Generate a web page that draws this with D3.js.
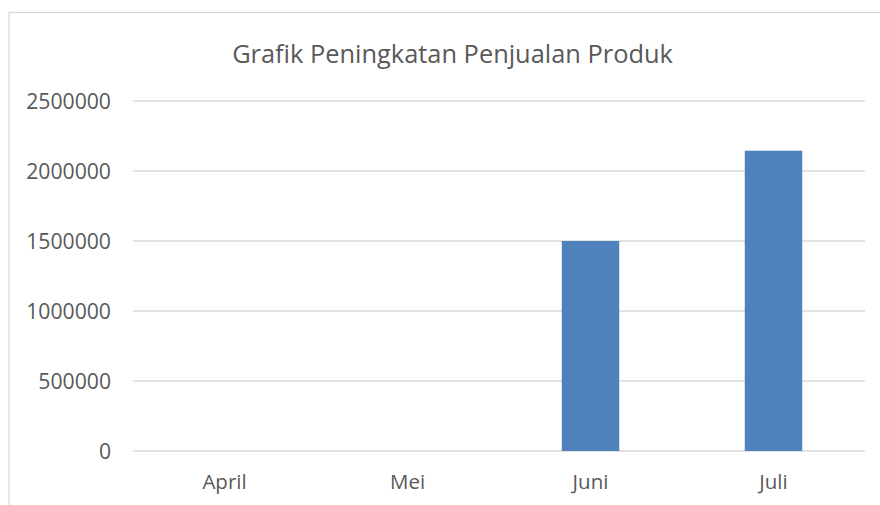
<!DOCTYPE html>
<html><head><meta charset="utf-8">
<script src="https://cdn.jsdelivr.net/npm/d3@7"></script>
<style>html,body{margin:0;padding:0;background:#fff;overflow:hidden}</style>
</head><body>
<svg id="c" width="880" height="505"></svg>
<script>
const categories = ["April", "Mei", "Juni", "Juli"];
const values = [0, 0, 1500000, 2145000];
const yTicks = [0, 500000, 1000000, 1500000, 2000000, 2500000];
const title = "Grafik Peningkatan Penjualan Produk";

(function () {
const svg = d3.select("#c");
const font = "'Open Sans', 'Noto Sans', sans-serif";
const textColor = "#595959";

// chart border
svg.append("rect").attr("x", 9).attr("y", 12.5).attr("width", 900).attr("height", 600)
  .attr("fill", "none").attr("stroke", "#d9d9d9").attr("stroke-width", 1.2);

const pLeft = 133, pRight = 865, pTop = 101, pBottom = 451;
const x = d3.scaleBand().domain(categories).range([pLeft, pRight]).paddingInner(0.686).paddingOuter(0.343);
const y = d3.scaleLinear().domain([0, 2500000]).range([pBottom, pTop]);

// gridlines
svg.append("g").selectAll("line").data(yTicks).join("line")
  .attr("x1", pLeft).attr("x2", pRight)
  .attr("y1", d => y(d)).attr("y2", d => y(d))
  .attr("stroke", "#d9d9d9").attr("stroke-width", 1.5);

// bars
svg.append("g").selectAll("rect").data(categories).join("rect")
  .attr("x", d => x(d)).attr("width", x.bandwidth())
  .attr("y", (d, i) => y(values[i])).attr("height", (d, i) => y(0) - y(values[i]))
  .attr("fill", "#4f81bd");

// y axis labels
const yAxis = d3.axisLeft(y).tickValues(yTicks).tickSize(0).tickPadding(0).tickFormat(d3.format("d"));
const gy = svg.append("g").attr("transform", `translate(111,0)`).call(yAxis);
gy.select(".domain").remove();
gy.selectAll("text").attr("font-family", font).attr("font-size", 21.2).attr("fill", textColor)
  .attr("dy", "0.36em");

// x axis labels
const xAxis = d3.axisBottom(x).tickSize(0).tickPadding(0);
const gx = svg.append("g").attr("transform", `translate(0,470)`).call(xAxis);
gx.select(".domain").remove();
gx.selectAll("text").attr("font-family", font).attr("font-size", 20.5).attr("fill", textColor)
  .attr("dy", "0.95em");

// title
svg.append("text").attr("x", 452.5).attr("y", 63).attr("text-anchor", "middle")
  .attr("font-family", font).attr("font-size", 25.4).attr("fill", textColor).text(title);
})();
</script>
</body></html>
